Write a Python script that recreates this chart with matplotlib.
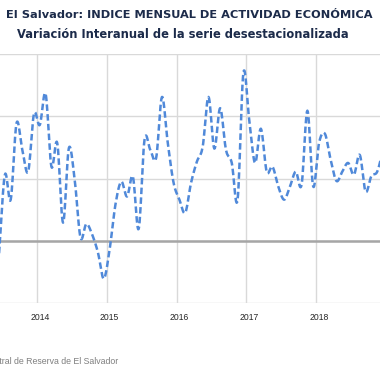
import numpy as np
import matplotlib
matplotlib.use("Agg")
import matplotlib.pyplot as plt

# Monthly index positions: 0 = Jul 2013 (one earlier point at -1 = Jun 2013)
months = list(range(-1, 66))
values = [-0.20, 1.06, 0.66, 1.89, 1.46, 1.11, 2.04, 1.86, 2.36, 1.19,
          1.57, 0.29, 1.49, 0.98, 0.05, 0.27, 0.10, -0.19, -0.61, -0.14,
          0.58, 0.95, 0.71, 1.03, 0.19, 1.62, 1.46, 1.33, 2.31, 1.57,
          0.93, 0.66, 0.45, 0.93, 1.27, 1.51, 2.31, 1.48, 2.13, 1.46,
          1.25, 0.66, 2.70, 1.94, 1.25, 1.80, 1.11, 1.19, 0.87, 0.66,
          0.87, 1.11, 0.90, 2.09, 0.87, 1.57, 1.72, 1.30, 0.96, 1.11,
          1.25, 1.06, 1.38, 0.79, 1.04, 1.11, 1.46]
year_labels = ["2014", "2015", "2016", "2017", "2018"]
year_pos = [6, 18, 30, 42, 54]

title = "El Salvador: INDICE MENSUAL DE ACTIVIDAD ECONÓMICA"
subtitle = "Variación Interanual de la serie desestacionalizada"
source = "Fuente: Banco Central de Reserva de El Salvador"


def catmull_rom(x, y, n=12):
    x = np.asarray(x, float)
    y = np.asarray(y, float)
    px = np.concatenate([[2 * x[0] - x[1]], x, [2 * x[-1] - x[-2]]])
    py = np.concatenate([[2 * y[0] - y[1]], y, [2 * y[-1] - y[-2]]])
    xs, ys = [], []
    t = np.linspace(0, 1, n, endpoint=False)
    for i in range(1, len(px) - 2):
        for arr, out in ((px, xs), (py, ys)):
            p0, p1, p2, p3 = arr[i - 1], arr[i], arr[i + 1], arr[i + 2]
            out.extend(0.5 * ((2 * p1) + (-p0 + p2) * t +
                              (2 * p0 - 5 * p1 + 4 * p2 - p3) * t ** 2 +
                              (-p0 + 3 * p1 - 3 * p2 + p3) * t ** 3))
    xs.append(x[-1]); ys.append(y[-1])
    return np.array(xs), np.array(ys)


W = H = 380
fig = plt.figure(figsize=(3.8, 3.8), dpi=100)
ax_bottom = (H - 303) / H
ax_top = (H - 54) / H
ax = fig.add_axes([0, ax_bottom, 1, ax_top - ax_bottom])

sx, sy = catmull_rom(months, values)
ax.plot(sx, sy, color="#5089d9", lw=1.8, linestyle=(0, (2.6, 1.3)),
        solid_capstyle="butt", dash_capstyle="butt", zorder=3)

ax.set_xlim(-0.84, 64.48)
ax.set_ylim(-1, 3)
ax.set_yticks([-1, 0, 1, 2, 3])
ax.set_yticklabels([])
ax.tick_params(axis="y", length=0)
ax.set_xticks(year_pos)
ax.set_xticklabels(year_labels, family="Liberation Sans", fontsize=6.2,
                   color="#262626")
ax.set_xticks([p - 0.5 for p in year_pos], minor=True)
ax.tick_params(axis="x", which="both", length=0, pad=7)
ax.grid(True, axis="y", which="major", color="#d9d9d9", lw=1)
ax.grid(True, axis="x", which="minor", color="#d9d9d9", lw=1)
ax.axhline(0, color="#a6a6a6", lw=1.8, zorder=2)
for s in ax.spines.values():
    s.set_visible(False)

fig.text(372 / W, 1 - 15 / H, title, ha="right", va="center",
         fontsize=8.2, fontweight="bold", color="#1c2b4a", family="DejaVu Sans")
fig.text(183 / W, 1 - 35 / H, subtitle, ha="center", va="center",
         fontsize=8.3, fontweight="bold", color="#1c2b4a", family="DejaVu Sans")
fig.text(118 / W, 1 - 361 / H, source, ha="right", va="center",
         fontsize=6.3, color="#7f7f7f", family="Liberation Sans")

fig.savefig("out.png", dpi=100)
